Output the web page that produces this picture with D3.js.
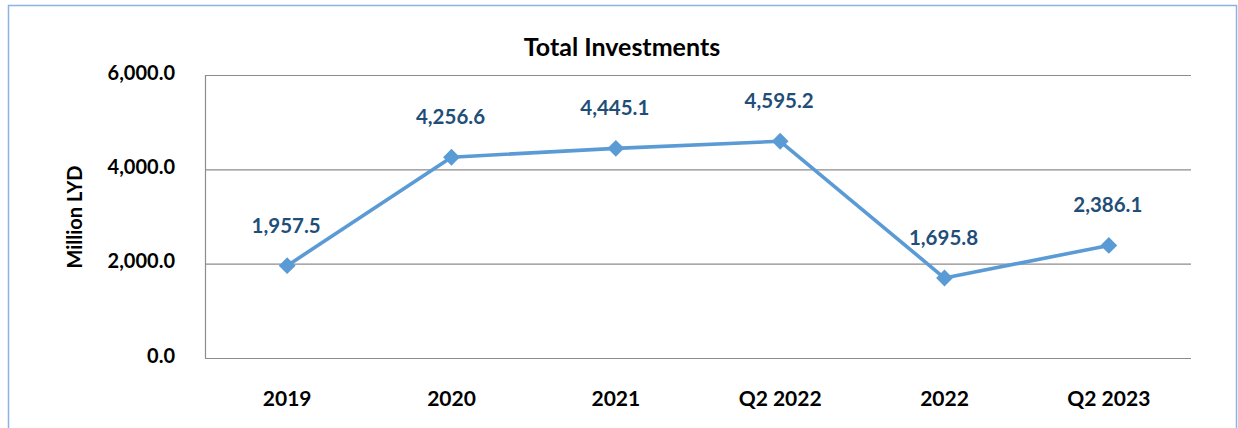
<!DOCTYPE html>
<html><head><meta charset="utf-8">
<script src="https://cdn.jsdelivr.net/npm/d3@7"></script>
<style>body{margin:0;background:#fff}svg{display:block}text{font-family:Lato,"Open Sans",sans-serif}</style>
</head><body><svg id="c" width="1238" height="428"></svg>
<script>
const categories = ["2019","2020","2021","Q2 2022","2022","Q2 2023"];
const values = [1957.5, 4256.6, 4445.1, 4595.2, 1695.8, 2386.1];
const yTicks = [0, 2000, 4000, 6000];
const title = "Total Investments";
const yTitle = "Million LYD";

const svg = d3.select("#c");
svg.append("rect").attr("x",8.5).attr("y",5.5).attr("width",1228).attr("height",440)
  .attr("fill","#fff").attr("stroke","#8DB3E2").attr("stroke-width",1.5);

const L=205, R=1191, T=75, B=358;
const x = d3.scaleBand().domain(categories).range([L,R]);
const y = d3.scaleLinear().domain([0,6000]).range([B,T]);
const fmt = d3.format(",.1f");

const g = svg.append("g");
g.selectAll(".grid").data(yTicks).join("line")
  .attr("x1",L).attr("x2",R).attr("y1",d=>y(d)+0.5).attr("y2",d=>y(d)+0.5)
  .attr("stroke","#8c8c8c").attr("stroke-width",1.2);
g.append("line").attr("x1",L+0.5).attr("x2",L+0.5).attr("y1",T).attr("y2",B+0.5)
  .attr("stroke","#8c8c8c").attr("stroke-width",1.2);

const yAxis = svg.append("g").attr("transform",`translate(${L},0)`)
  .call(d3.axisLeft(y).tickValues(yTicks).tickFormat(fmt).tickSize(0).tickPadding(30));
yAxis.select(".domain").remove();
yAxis.selectAll("text").attr("font-size",20).attr("font-weight","bold").attr("fill","#000")
  .attr("dy","0.2em").style("font-family","Lato,sans-serif");

const xAxis = svg.append("g").attr("transform",`translate(0,${B})`)
  .call(d3.axisBottom(x).tickSize(0).tickPadding(0));
xAxis.select(".domain").remove();
xAxis.selectAll("text").attr("font-size",21).attr("font-weight","bold").attr("fill","#000")
  .attr("y",48).attr("dy",0).style("font-family","Lato,sans-serif");

const cx = d => x(d) + x.bandwidth()/2;
const pts = categories.map((c,i)=>[cx(c), y(values[i])]);
svg.append("path").attr("d", d3.line()(pts)).attr("fill","none")
  .attr("stroke","#5B9BD5").attr("stroke-width",3.6).attr("stroke-linejoin","round");
svg.selectAll(".m").data(pts).join("path")
  .attr("transform",d=>`translate(${d[0]},${d[1]})`)
  .attr("d", d3.symbol(d3.symbolDiamond2, 180)).attr("fill","#5B9BD5");
svg.selectAll(".lbl").data(pts).join("text")
  .attr("x",d=>d[0]-1).attr("y",d=>d[1]-33)
  .attr("text-anchor","middle").attr("font-size",20.5).attr("font-weight","bold")
  .attr("fill","#1F4E79").text((d,i)=>fmt(values[i]));

svg.append("text").attr("x",622).attr("y",56).attr("text-anchor","middle")
  .attr("font-size",25).attr("font-weight","bold").attr("fill","#000").text(title);
svg.append("text").attr("transform","translate(82,217) rotate(-90)").attr("text-anchor","middle")
  .attr("font-size",20).attr("font-weight","bold").attr("fill","#000").text(yTitle);
</script></body></html>
